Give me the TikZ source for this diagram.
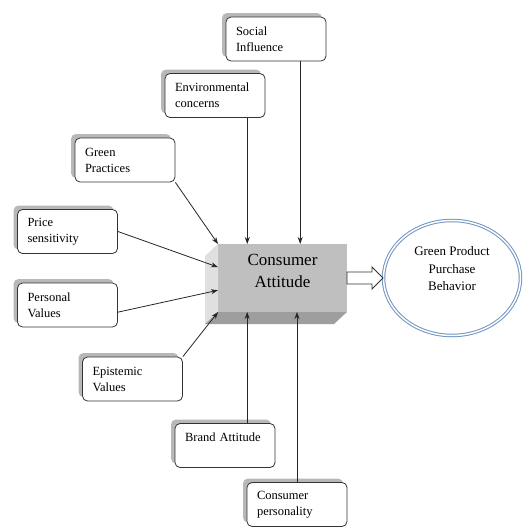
\documentclass[tikz,border=0pt]{standalone}
\usepackage{fontspec}
\setmainfont{Liberation Serif}
\usetikzlibrary{arrows.meta,shapes.geometric,shadows,calc}
\definecolor{ringblue}{RGB}{112,148,194}

\begin{document}
\begin{tikzpicture}[
    x=1pt, y=-1pt,
    >={Stealth[length=7pt,width=5pt]},
    factor/.style={
        draw=black!80,
        line width=0.8pt,
        rounded corners=5pt,
        fill=white,
        minimum width=100pt,
        minimum height=44pt,
        text width=80pt,
        inner xsep=10pt,
        align=left,
        font=\fontsize{12.5}{16}\selectfont,
        drop shadow={shadow xshift=-4pt, shadow yshift=4pt, fill=black!28, opacity=1}
    },
    link/.style={->, draw=black!85, line width=0.8pt}
]
    \useasboundingbox (0,0) rectangle (526,528);

    \node[factor] (social) at (276,39) {Social\\Influence};
    \node[factor] (environment) at (215,95.5) {Environmental\\concerns};
    \node[factor] (practices) at (125,160) {Green\\Practices};
    \node[factor] (price) at (67.5,231.5) {Price\\sensitivity};
    \node[factor] (personal) at (67.5,305) {Personal\\Values};
    \node[factor] (epistemic) at (132.5,379) {Epistemic\\Values};
    \node[factor] (brand) at (225,445.5) {Brand Attitude\\\mbox{}};
    \node[factor] (personality) at (297,504.5) {Consumer\\personality};

    \node[
        minimum width=129pt,
        minimum height=68pt,
        inner sep=0pt,
        outer sep=0pt,
        fill=black!25,
        label={[yshift=7pt, align=center, font=\fontsize{17}{22}\selectfont]center:Consumer\\Attitude}
    ] (attitude) at (282.5,278) {};
    \fill[black!12] (attitude.north west) -- ++(-13,12)
        -- ($(attitude.south west)+(-13,12)$) -- (attitude.south west) -- cycle;
    \fill[black!38] (attitude.south west) -- ++(-13,12)
        -- ($(attitude.south east)+(-13,12)$) -- (attitude.south east) -- cycle;

    \node[
        ellipse,
        draw=ringblue,
        double=white,
        double distance=1.5pt,
        line width=1pt,
        minimum width=137pt,
        minimum height=115pt,
        inner sep=0pt,
        label={[yshift=9pt, align=center, font=\fontsize{13}{17.5}\selectfont]center:Green Product\\Purchase\\Behavior}
    ] (behavior) at (452,278) {};

    \draw[draw=black!80, line width=0.8pt, fill=white]
        ([yshift=6pt]attitude.east) -- ([xshift=-11pt,yshift=6pt]behavior.west)
        -- ([xshift=-11pt,yshift=11pt]behavior.west) -- (behavior.west)
        -- ([xshift=-11pt,yshift=-11pt]behavior.west) -- ([xshift=-11pt,yshift=-6pt]behavior.west)
        -- ([yshift=-6pt]attitude.east) -- cycle;

    \draw[link] ($(social.south west)!0.74!(social.south east)$) coordinate (s1)
        -- (s1 |- attitude.north);
    \draw[link] ($(environment.south west)!0.82!(environment.south east)$) coordinate (e1)
        -- (e1 |- attitude.north);
    \draw[link] (practices.south east) -- (attitude.north west);
    \draw[link] (price.east) -- ($(attitude.north west)!0.34!(attitude.south west)$);
    \draw[link] ($(personal.north east)!0.66!(personal.south east)$)
        -- ($(attitude.north west)!0.68!(attitude.south west)$);
    \draw[link] (epistemic.north east) -- (attitude.south west);
    \draw[link] ($(brand.north west)!0.72!(brand.north east)$) coordinate (b1)
        -- (b1 |- attitude.south);
    \draw[link] (personality.north) -- (personality.north |- attitude.south);
\end{tikzpicture}
\end{document}
